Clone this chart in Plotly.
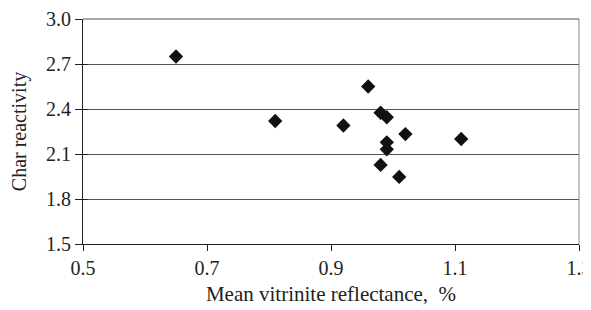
import plotly.graph_objects as go

reflectance = [0.65, 0.81, 0.92, 0.96, 0.98, 0.99, 1.02, 1.11, 0.99, 0.99, 0.98, 1.01]
reactivity = [2.75, 2.32, 2.29, 2.55, 2.375, 2.345, 2.233, 2.20, 2.178, 2.131, 2.027, 1.947]

x_ticks = [0.5, 0.7, 0.9, 1.1, 1.3]
y_ticks = [1.5, 1.8, 2.1, 2.4, 2.7, 3.0]

font = "Liberation Serif, Times New Roman, serif"
ink = "#222222"

fig = go.Figure()
fig.add_trace(go.Scatter(
    x=reflectance, y=reactivity, mode="markers",
    marker=dict(symbol="diamond", size=11, color="#111111"),
    showlegend=False, cliponaxis=False,
))
# invisible trace carrying the inner tick marks of the y axis
fig.add_trace(go.Scatter(x=[None], y=[None], yaxis="y2", showlegend=False, hoverinfo="skip"))

# page body has an 8px margin: figure sized so the plot area lands at 83..579 x 19..244
fig.update_layout(
    width=583, height=302,
    margin=dict(l=75, r=12, t=11, b=66, autoexpand=False),
    paper_bgcolor="white", plot_bgcolor="white",
    font=dict(family=font, size=19, color=ink),
    shapes=[
        dict(type="line", xref="paper", yref="paper", x0=1, x1=1, y0=0, y1=1,
             line=dict(color="#888888", width=1)),
        dict(type="line", xref="paper", yref="paper", x0=0, x1=1, y0=1, y1=1,
             line=dict(color="#555555", width=1)),
    ],
    xaxis=dict(
        range=[0.5, 1.3], tickvals=x_ticks, ticktext=[f"{v:.1f}" for v in x_ticks],
        showgrid=False, zeroline=False, automargin=False,
        showline=True, linecolor=ink, linewidth=1,
        ticks="outside", ticklen=6, tickcolor=ink,
        ticklabeloverflow="allow",
        tickfont=dict(family=font, size=20, color=ink),
        title=dict(text="Mean vitrinite reflectance,  %", standoff=8,
                   font=dict(family=font, size=21, color=ink)),
    ),
    yaxis=dict(
        range=[1.5, 3.0], tickvals=y_ticks, ticktext=[f"{v:.1f}" for v in y_ticks],
        showgrid=True, gridcolor="#555555", gridwidth=1, zeroline=False, automargin=False,
        showline=True, linecolor=ink, linewidth=1,
        ticks="outside", ticklen=7, tickcolor=ink,
        tickfont=dict(family=font, size=20, color=ink),
        title=dict(text="Char reactivity", standoff=16,
                   font=dict(family=font, size=20, color=ink)),
    ),
    yaxis2=dict(
        overlaying="y", side="left", range=[1.5, 3.0], tickvals=y_ticks,
        showticklabels=False, showgrid=False, zeroline=False, showline=False,
        automargin=False, ticks="inside", ticklen=5, tickcolor=ink,
    ),
)

fig.write_html("out.html")
